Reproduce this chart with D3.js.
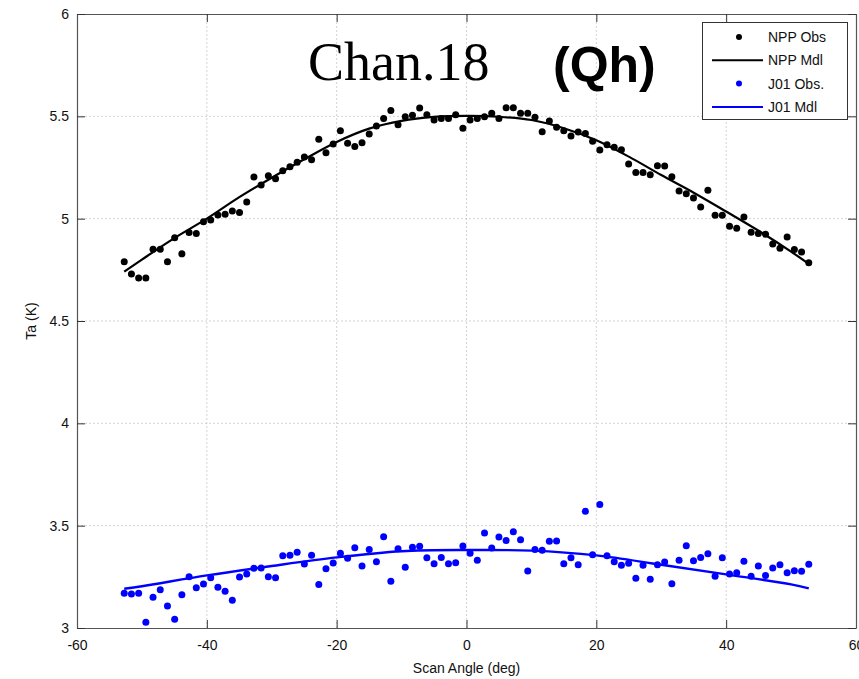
<!DOCTYPE html>
<html>
<head>
<meta charset="utf-8">
<script src="https://cdn.jsdelivr.net/npm/d3@7"></script>
<style>
  body { margin: 0; background: #fff; }
  text { font-family: "Liberation Sans", Arial, sans-serif; }
</style>
</head>
<body>
<div id="chart-area"></div>
<script>
// ATMS scan angles (deg), 96 beams
var angles = [
  -52.725, -51.615, -50.505, -49.395, -48.285, -47.175, -46.065, -44.955,
  -43.845, -42.735, -41.625, -40.515, -39.405, -38.295, -37.185, -36.075,
  -34.965, -33.855, -32.745, -31.635, -30.525, -29.415, -28.305, -27.195,
  -26.085, -24.975, -23.865, -22.755, -21.645, -20.535, -19.425, -18.315,
  -17.205, -16.095, -14.985, -13.875, -12.765, -11.655, -10.545, -9.435,
  -8.325, -7.215, -6.105, -4.995, -3.885, -2.775, -1.665, -0.555,
  0.555, 1.665, 2.775, 3.885, 4.995, 6.105, 7.215, 8.325,
  9.435, 10.545, 11.655, 12.765, 13.875, 14.985, 16.095, 17.205,
  18.315, 19.425, 20.535, 21.645, 22.755, 23.865, 24.975, 26.085,
  27.195, 28.305, 29.415, 30.525, 31.635, 32.745, 33.855, 34.965,
  36.075, 37.185, 38.295, 39.405, 40.515, 41.625, 42.735, 43.845,
  44.955, 46.065, 47.175, 48.285, 49.395, 50.505, 51.615, 52.725
];

var nppObs = [
  4.790, 4.730, 4.710, 4.710, 4.850, 4.850, 4.790, 4.907,
  4.828, 4.932, 4.928, 4.985, 4.994, 5.018, 5.021, 5.037,
  5.030, 5.082, 5.204, 5.165, 5.210, 5.195, 5.234, 5.254,
  5.276, 5.301, 5.288, 5.388, 5.322, 5.365, 5.430, 5.368,
  5.352, 5.371, 5.414, 5.453, 5.489, 5.528, 5.459, 5.498,
  5.505, 5.541, 5.508, 5.482, 5.490, 5.489, 5.508, 5.442,
  5.482, 5.489, 5.498, 5.515, 5.490, 5.542, 5.542, 5.515,
  5.515, 5.495, 5.425, 5.477, 5.447, 5.429, 5.404, 5.423,
  5.416, 5.378, 5.335, 5.361, 5.349, 5.337, 5.267, 5.225,
  5.225, 5.215, 5.259, 5.257, 5.205, 5.135, 5.122, 5.101,
  5.057, 5.139, 5.017, 5.017, 4.963, 4.953, 5.008, 4.934,
  4.927, 4.924, 4.876, 4.855, 4.911, 4.849, 4.837, 4.784
];

var j01Obs = [
  3.170, 3.166, 3.170, 3.028, 3.150, 3.187, 3.107, 3.043,
  3.163, 3.251, 3.197, 3.215, 3.246, 3.199, 3.179, 3.135,
  3.249, 3.264, 3.292, 3.293, 3.251, 3.246, 3.353, 3.355,
  3.370, 3.313, 3.355, 3.213, 3.290, 3.318, 3.365, 3.341,
  3.392, 3.303, 3.383, 3.324, 3.446, 3.228, 3.387, 3.297,
  3.394, 3.399, 3.343, 3.314, 3.345, 3.314, 3.319, 3.401,
  3.365, 3.331, 3.464, 3.391, 3.445, 3.428, 3.470, 3.431,
  3.278, 3.384, 3.380, 3.424, 3.425, 3.314, 3.343, 3.309,
  3.570, 3.358, 3.603, 3.353, 3.324, 3.306, 3.316, 3.243,
  3.306, 3.238, 3.309, 3.322, 3.216, 3.331, 3.402, 3.329,
  3.345, 3.363, 3.253, 3.343, 3.264, 3.270, 3.326, 3.253,
  3.303, 3.257, 3.293, 3.309, 3.270, 3.280, 3.277, 3.311
];

// model curves read at these angles
var nppMdlAngles = [-52.725, -50, -45, -40, -35, -30, -25, -20, -15, -10, -5, 0, 5, 10, 15, 20, 25, 30, 35, 40, 45, 50, 52.725];
var nppMdl = [4.741, 4.800, 4.905, 5.000, 5.105, 5.200, 5.290, 5.375, 5.440, 5.478, 5.497, 5.502, 5.498, 5.482, 5.442, 5.383, 5.303, 5.213, 5.127, 5.035, 4.941, 4.839, 4.779];

var j01MdlAngles = [-52.725, -50, -40, -30, -20, -10, 0, 10, 20, 30, 40, 50, 52.725];
var j01Mdl = [3.192, 3.204, 3.257, 3.303, 3.345, 3.375, 3.381, 3.378, 3.355, 3.309, 3.262, 3.213, 3.194];

var xTicks = [-60, -40, -20, 0, 20, 40, 60];
var yTicks = [3, 3.5, 4, 4.5, 5, 5.5, 6];

var legendLabels = ["NPP Obs", "NPP Mdl", "J01 Obs.", "J01 Mdl"];

var width = 859, height = 679;
var margin = {top: 14, right: 3, bottom: 51, left: 77};
var w = width - margin.left - margin.right;
var h = height - margin.top - margin.bottom;

var svg = d3.select("#chart-area").append("svg")
    .attr("width", width)
    .attr("height", height);

var g = svg.append("g")
    .attr("transform", "translate(" + margin.left + "," + margin.top + ")");

var x = d3.scaleLinear().domain([-60, 60]).range([0, w]);
var y = d3.scaleLinear().domain([3, 6]).range([h, 0]);

// grid
g.selectAll(".gx").data(xTicks.slice(1, -1)).enter().append("line")
    .attr("x1", d => x(d)).attr("x2", d => x(d))
    .attr("y1", 0).attr("y2", h)
    .attr("stroke", "#c8c8c8").attr("stroke-width", 0.8)
    .attr("stroke-dasharray", "2,2");
g.selectAll(".gy").data(yTicks.slice(1, -1)).enter().append("line")
    .attr("y1", d => y(d)).attr("y2", d => y(d))
    .attr("x1", 0).attr("x2", w)
    .attr("stroke", "#c8c8c8").attr("stroke-width", 0.8)
    .attr("stroke-dasharray", "2,2");

// axes, ticks inside
var plain = d => String(d);
var axB = g.append("g").attr("transform", "translate(0," + h + ")")
    .call(d3.axisBottom(x).tickValues(xTicks).tickSizeInner(-8).tickSizeOuter(0).tickPadding(12)
      .tickFormat(plain));
var axT = g.append("g")
    .call(d3.axisTop(x).tickValues(xTicks).tickSizeInner(-8).tickSizeOuter(0).tickFormat(""));
var axL = g.append("g")
    .call(d3.axisLeft(y).tickValues(yTicks).tickSizeInner(-8).tickSizeOuter(0).tickPadding(6)
      .tickFormat(plain));
var axR = g.append("g").attr("transform", "translate(" + w + ",0)")
    .call(d3.axisRight(y).tickValues(yTicks).tickSizeInner(-8).tickSizeOuter(0).tickFormat(""));

[axB, axT, axL, axR].forEach(a => {
  a.select(".domain").attr("stroke", "#555").attr("stroke-width", 1.2);
  a.selectAll(".tick line").attr("stroke", "#333");
  a.selectAll(".tick text").attr("font-size", 14).attr("fill", "#111")
    .style("font-family", "'Liberation Sans', Arial, sans-serif");
});
axL.selectAll(".tick text").attr("dx", "-2");

// model lines
var line = d3.line()
    .x(d => x(d[0]))
    .y(d => y(d[1]))
    .curve(d3.curveCatmullRom);

g.append("path")
    .datum(nppMdlAngles.map((a, i) => [a, nppMdl[i]]))
    .attr("d", line)
    .attr("fill", "none").attr("stroke", "#000").attr("stroke-width", 2.2);

g.append("path")
    .datum(j01MdlAngles.map((a, i) => [a, j01Mdl[i]]))
    .attr("d", line)
    .attr("fill", "none").attr("stroke", "#0000ff").attr("stroke-width", 2.4);

// observations
g.selectAll(".npp").data(angles).enter().append("circle")
    .attr("cx", d => x(d))
    .attr("cy", (d, i) => y(nppObs[i]))
    .attr("r", 3.5)
    .attr("fill", "#000");

g.selectAll(".j01").data(angles).enter().append("circle")
    .attr("cx", d => x(d))
    .attr("cy", (d, i) => y(j01Obs[i]))
    .attr("r", 3.5)
    .attr("fill", "#0000ff");

// titles
svg.append("text")
    .attr("x", 308).attr("y", 80)
    .style("font-family", "'Liberation Serif', 'Times New Roman', serif")
    .attr("font-size", 54)
    .attr("fill", "#000")
    .text("Chan.18");

svg.append("text")
    .attr("x", 553).attr("y", 82)
    .attr("font-size", 50)
    .attr("font-weight", "bold")
    .attr("fill", "#000")
    .text("(Qh)");

// axis labels
svg.append("text")
    .attr("x", margin.left + x(0)).attr("y", 673)
    .attr("text-anchor", "middle")
    .attr("font-size", 14)
    .attr("fill", "#111")
    .text("Scan Angle (deg)");

svg.append("text")
    .attr("transform", "translate(36," + (margin.top + h / 2) + ") rotate(-90)")
    .attr("text-anchor", "middle")
    .attr("font-size", 14)
    .attr("fill", "#111")
    .text("Ta (K)");

// legend
var lg = svg.append("g");
lg.append("rect")
    .attr("x", 702.5).attr("y", 22.5)
    .attr("width", 145).attr("height", 97)
    .attr("fill", "#fff").attr("stroke", "#333").attr("stroke-width", 1);

var legendColors = ["#000", "#000", "#0000ff", "#0000ff"];
legendLabels.forEach((lab, i) => {
  var ly = 37 + i * 23.3;
  if (i % 2 === 0) {
    lg.append("circle").attr("cx", 739).attr("cy", ly).attr("r", 3)
      .attr("fill", legendColors[i]);
  } else {
    lg.append("line").attr("x1", 712).attr("x2", 763)
      .attr("y1", ly).attr("y2", ly)
      .attr("stroke", legendColors[i]).attr("stroke-width", 2);
  }
  lg.append("text").attr("x", 768).attr("y", ly + 5)
    .attr("font-size", 14).attr("fill", "#111")
    .text(lab);
});
</script>
</body>
</html>
